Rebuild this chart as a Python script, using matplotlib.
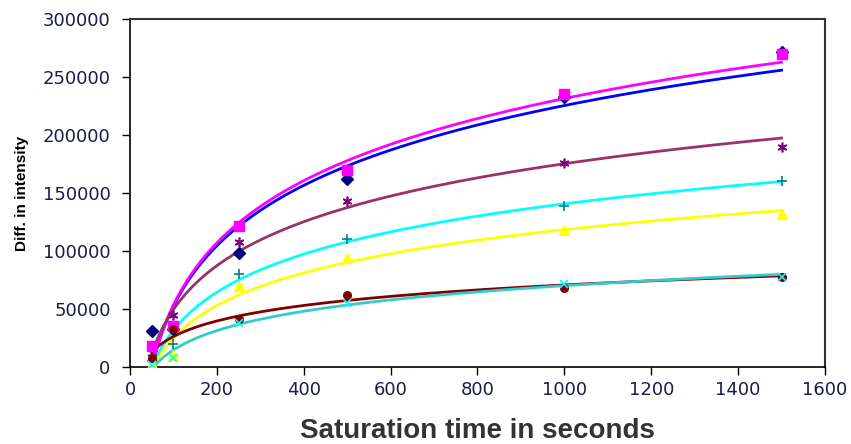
import numpy as np
import matplotlib
matplotlib.use("Agg")
import matplotlib.pyplot as plt

# Saturation times (s) and intensity differences for each sample series
times = [50, 100, 250, 500, 1000, 1500]

s1 = [31000, 33000, 98000, 162000, 233000, 272000]
s2 = [18000, 35000, 122000, 170000, 235000, 270000]
s3 = [9000, 45000, 108000, 143000, 176000, 190000]
s4 = [5000, 20000, 80000, 110000, 139000, 160000]
s5 = [3000, 10000, 70000, 94000, 118000, 132000]
s6 = [8000, 33000, 41000, 62000, 68000, 78000]
s7 = [2000, 8000, 38000, 55000, 72000, 78000]

xticks = [0, 200, 400, 600, 800, 1000, 1200, 1400, 1600]
yticks = [0, 50000, 100000, 150000, 200000, 250000, 300000]

series = [
    (s1, "D", "#000080", "#0000FF", 6.5),
    (s2, "s", "#FF00FF", "#FF00FF", 6.5),
    (s3, (6, 2, 0), "#800080", "#993366", 7),
    (s4, "+", "#008080", "#00FFFF", 7),
    (s5, "^", "#FFFF00", "#FFFF00", 7.5),
    (s6, "o", "#800000", "#800000", 5.5),
    (s7, "x", "#00FFFF", "#33CCCC", 6),
]

fig = plt.figure(figsize=(8.51, 4.44), dpi=100)
ax = fig.add_axes([0.1528, 0.1734, 0.8166, 0.7836])

t = np.array(times, dtype=float)
xs = np.linspace(t.min(), t.max(), 400)
for vals, mk, mcol, lcol, ms in series:
    v = np.array(vals, dtype=float)
    # logarithmic trendline y = a*ln(x) + b
    a, b = np.polyfit(np.log(t), v, 1)
    ax.plot(xs, a * np.log(xs) + b, color=lcol, lw=2.0, zorder=2)
    if mk in ("+", "x") or isinstance(mk, tuple):
        ax.plot(t, v, linestyle="none", marker=mk, color=mcol, ms=ms,
                mew=1.2, zorder=3)
    else:
        ax.plot(t, v, linestyle="none", marker=mk, color=mcol, mfc=mcol,
                mec=mcol, ms=ms, zorder=3)

ax.set_xlim(0, 1600)
ax.set_ylim(0, 300000)
ax.set_xticks(xticks)
ax.set_yticks(yticks)
ax.set_xticklabels([str(v) for v in xticks])
ax.set_yticklabels([str(v) for v in yticks])
ax.tick_params(axis="both", direction="out", length=6, width=1,
               labelsize=13, labelcolor="#1c1c4a", colors="black")
for lab in ax.get_xticklabels() + ax.get_yticklabels():
    lab.set_family(["DejaVu Sans"])
ax.tick_params(axis="x", pad=4)
ax.tick_params(axis="y", pad=8)

for side in ["top", "right"]:
    ax.spines[side].set_color("#333333")
    ax.spines[side].set_linewidth(1.5)
for side in ["left", "bottom"]:
    ax.spines[side].set_color("black")
    ax.spines[side].set_linewidth(1.2)

ax.set_xlabel("Saturation time in seconds", fontsize=20, fontweight="bold",
              family=["Liberation Sans", "DejaVu Sans"],
              color="#333333", labelpad=14)
ax.set_ylabel("Diff. in intensity", fontsize=11, fontweight="bold",
              family=["Liberation Sans", "DejaVu Sans"], color="black")
ax.yaxis.set_label_coords(-0.146, 0.5)

fig.savefig("out.png", dpi=100)
